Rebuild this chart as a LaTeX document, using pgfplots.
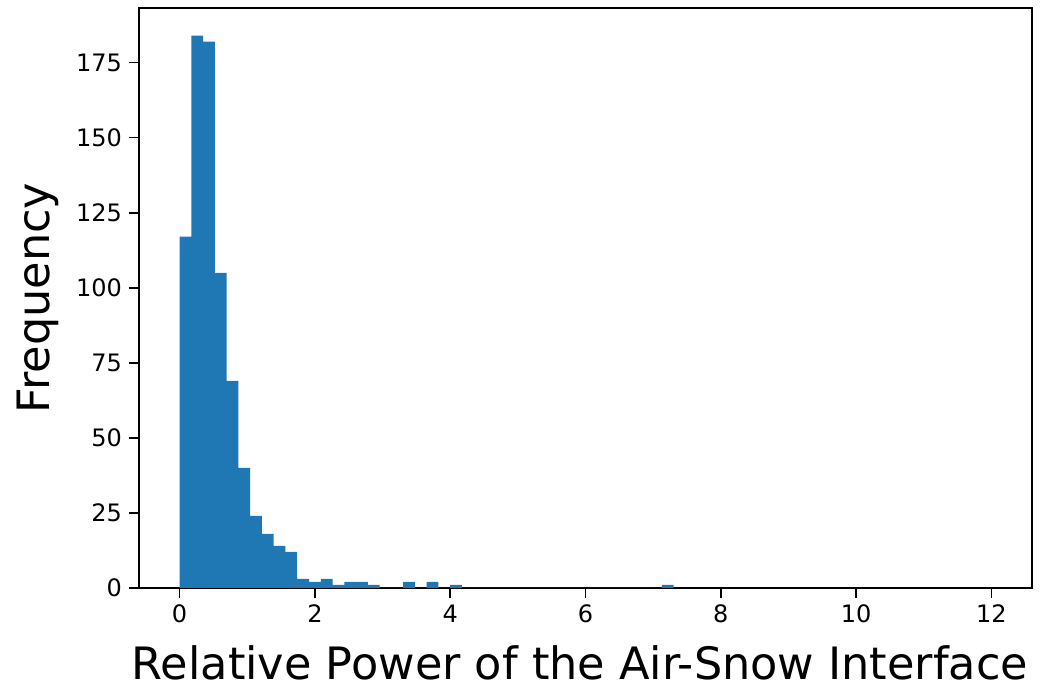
\documentclass[border=0pt]{standalone}
\usepackage{pgfplots}
\pgfplotsset{compat=1.18}
\usepackage{fontspec}
\setmainfont{DejaVu Sans}
\definecolor{mplblue}{HTML}{1F77B4}
\begin{document}
\begin{tikzpicture}
\path[use as bounding box] (-69.5pt,-50.5pt) rectangle (462pt,294pt);
\begin{axis}[
  scale only axis,
  width=446.5pt, height=290pt,
  at={(0,0)}, anchor=south west,
  xmin=-0.6, xmax=12.6,
  ymin=0, ymax=193.2,
  xtick={0,2,4,6,8,10,12},
  ytick={0,25,50,75,100,125,150,175},
  tick align=outside,
  major tick length=5pt,
  tick style={black, line width=0.8pt},
  axis line style={black, line width=0.8pt},
  xtick pos=bottom, ytick pos=left,
  /pgf/number format/assume math mode=true,
  ticklabel style={font=\fontsize{12}{14}\selectfont},
  label style={font=\fontsize{22.3}{26}\selectfont},
  xlabel={Relative Power of the Air-Snow Interface},
  ylabel={Frequency},
  xlabel style={at={(axis description cs:0.4939,-0.1586)}, anchor=base},
  ylabel style={at={(axis description cs:-0.1131,0.5)}, anchor=center},
]
\addplot[ybar interval, fill=mplblue, draw=none] table {
x y
0.000000 117
0.173913 184
0.347826 182
0.521739 105
0.695652 69
0.869565 40
1.043478 24
1.217391 18
1.391304 14
1.565217 12
1.739130 3
1.913043 2
2.086957 3
2.260870 1
2.434783 2
2.608696 2
2.782609 1
2.956522 0
3.130435 0
3.304348 2
3.478261 0
3.652174 2
3.826087 0
4.000000 1
4.173913 0
7.130435 1
7.304348 0
};
\end{axis}
\end{tikzpicture}
\end{document}
